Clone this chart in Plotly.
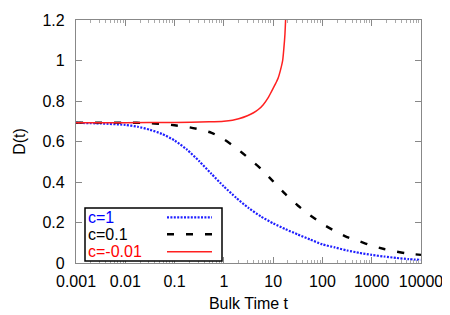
import plotly.graph_objects as go

# ---- data ----
t_c1 = [0.001, 0.00316, 0.01, 0.0178, 0.0316, 0.0562, 0.1, 0.178, 0.316, 0.562, 1, 1.78, 3.16, 5.62,
        10, 17.8, 31.6, 56.2, 100, 178, 316, 562, 1000, 1780, 3160, 5620, 10000]
d_c1 = [0.692, 0.689, 0.682, 0.673, 0.658, 0.637, 0.605, 0.560, 0.503, 0.440, 0.378, 0.322, 0.272, 0.230,
        0.196, 0.167, 0.141, 0.116, 0.092, 0.077, 0.062, 0.050, 0.040, 0.032, 0.025, 0.019, 0.015]

t_c01 = [0.001, 0.01, 0.0316, 0.0562, 0.1, 0.178, 0.316, 0.562, 1, 1.78, 3.16, 5.62, 10, 17.8,
         31.6, 56.2, 100, 178, 316, 562, 1000, 1780, 3160, 5620, 10000]
d_c01 = [0.693, 0.693, 0.691, 0.686, 0.680, 0.672, 0.660, 0.643, 0.611, 0.568, 0.518, 0.466, 0.403, 0.340,
         0.284, 0.236, 0.193, 0.158, 0.128, 0.107, 0.085, 0.069, 0.056, 0.046, 0.040]

t_cm001 = [0.001, 0.01, 0.1, 0.5, 1, 1.5, 2, 3, 4, 5, 6.3, 8, 9.3, 11, 12.7, 14, 15.6, 16.5, 17.35, 17.9, 18.3]
d_cm001 = [0.693, 0.693, 0.694, 0.697, 0.700, 0.705, 0.712, 0.727, 0.742, 0.758, 0.782, 0.818, 0.848, 0.882, 0.915, 0.950, 1.000, 1.060, 1.130, 1.200, 1.280]

series_names = ["c=1", "c=0.1", "c=-0.01"]
series_colors = ["#1f1fff", "#000000", "#ff2020"]
text_colors = ["#0000ff", "#000000", "#ff0000"]
series_dash = ["2px,1.4px", "7px,12px", "solid"]
series_width = [2.2, 2.4, 1.5]

x_tickvals = [0.001, 0.01, 0.1, 1, 10, 100, 1000, 10000]
x_ticktext = ["0.001", "0.01", "0.1", "1", "10", "100", "1000", "10000"]
y_tickvals = [0, 0.2, 0.4, 0.6, 0.8, 1.0, 1.2]
y_ticktext = ["0", "0.2", "0.4", "0.6", "0.8", "1", "1.2"]
minor_vals = [m * 10.0 ** e for e in range(-3, 4) for m in range(2, 10)]

FONT = "Liberation Sans, Arial, sans-serif"

fig = go.Figure()
for tx, dy, name, col, dash, w in zip([t_c1, t_c01, t_cm001], [d_c1, d_c01, d_cm001],
                                      series_names, series_colors, series_dash, series_width):
    fig.add_trace(go.Scatter(x=tx, y=dy, mode="lines", name=name, showlegend=False,
                             line=dict(color=col, dash=dash, width=w, shape="spline",
                                       smoothing=0.6)))

axis_common = dict(showline=True, linecolor="#888888", linewidth=1.2, mirror="ticks",
                   ticks="inside", tickcolor="#888888", ticklen=6, tickwidth=1,
                   showgrid=False, zeroline=False, automargin=False,
                   tickfont=dict(family=FONT, size=16, color="black"))

fig.update_xaxes(type="log", range=[-3, 4], tickmode="array", tickvals=x_tickvals,
                 ticktext=x_ticktext, ticklabelstandoff=4,
                 minor=dict(tickmode="array", tickvals=minor_vals, ticks="inside",
                            ticklen=3, tickcolor="#aaaaaa", tickwidth=1, showgrid=False),
                 title=dict(text="Bulk Time t", font=dict(family=FONT, size=16, color="black"),
                            standoff=8),
                 **axis_common)
fig.update_yaxes(range=[0, 1.2], tickmode="array", tickvals=y_tickvals, ticktext=y_ticktext,
                 ticklabelstandoff=7,
                 title=dict(text="D(t)", font=dict(family=FONT, size=16, color="black"),
                            standoff=12),
                 **axis_common)

# ---- gnuplot-style legend (text left, sample right) ----
px0, py0, pw, ph = 76, 20, 345, 243
def px(x):
    return (x - px0) / pw
def py(y):
    return (py0 + ph - y) / ph

fig.add_shape(type="rect", xref="paper", yref="paper", x0=px(85), x1=px(222),
              y0=py(261), y1=py(208), line=dict(color="black", width=1.5),
              fillcolor="white", layer="above")
row_y = [217.3, 234.3, 251.7]
for ry, name, col, tcol, dash, w in zip(row_y, series_names, series_colors, text_colors,
                                        series_dash, series_width):
    fig.add_annotation(xref="paper", yref="paper", x=px(86), y=py(ry), text=name,
                       showarrow=False, xanchor="left", yanchor="middle",
                       font=dict(family=FONT, size=16, color=tcol))
    fig.add_shape(type="line", xref="paper", yref="paper", x0=px(167), x1=px(212),
                  y0=py(ry), y1=py(ry), line=dict(color=col, dash=dash, width=w),
                  layer="above")

# the page body adds an 8px offset, so the figure is sized to compensate
fig.update_layout(width=442, height=307, margin=dict(l=68, r=29, t=12, b=52),
                  paper_bgcolor="white", plot_bgcolor="white",
                  font=dict(family=FONT, size=16, color="black"))

fig.write_html("out.html")
